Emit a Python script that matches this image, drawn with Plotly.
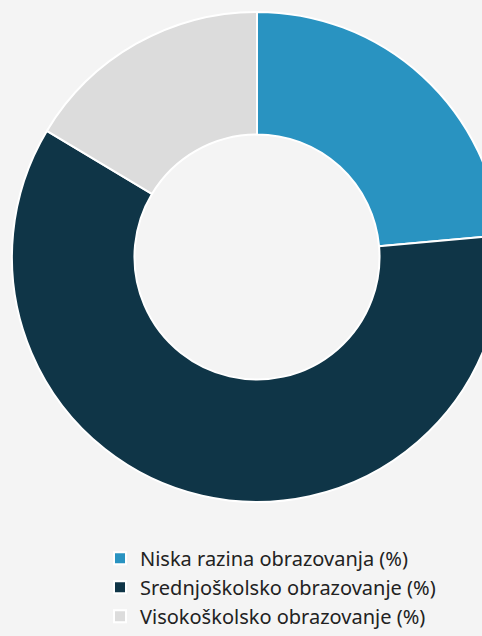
import plotly.graph_objects as go

labels = ["Niska razina obrazovanja (%)", "Srednjoškolsko obrazovanje (%)", "Visokoškolsko obrazovanje (%)"]
values = [23.6, 60.0, 16.4]
colors = ["#2993c1", "#0f3547", "#dcdcdc"]

W, H = 520, 636

fig = go.Figure(go.Pie(
    labels=labels,
    values=values,
    hole=0.5,
    sort=False,
    direction="clockwise",
    rotation=0,
    textinfo="none",
    hoverinfo="label+value",
    marker=dict(colors=colors, line=dict(color="#ffffff", width=2)),
    domain=dict(x=[10 / W, 504 / W], y=[1 - 506 / H, 1 - 12 / H]),
))

fig.update_layout(
    width=W, height=H,
    margin=dict(l=0, r=0, t=0, b=0),
    paper_bgcolor="#f4f4f4",
    plot_bgcolor="#f4f4f4",
    font=dict(family="Noto Sans", size=20, color="#222222"),
    showlegend=True,
    legend=dict(
        orientation="v",
        x=100 / W, xanchor="left",
        y=1 - 592 / H, yanchor="middle",
        bgcolor="rgba(0,0,0,0)",
        font=dict(size=20),
        itemclick=False,
    ),
)

fig.write_html(
    "out.html",
    config={"displayModeBar": False},
    post_script=(
        "document.body.style.margin='0';"
        "document.body.style.overflow='hidden';"
        "document.documentElement.style.overflow='hidden';"
        "document.body.style.background='#f4f4f4';"
    ),
)
